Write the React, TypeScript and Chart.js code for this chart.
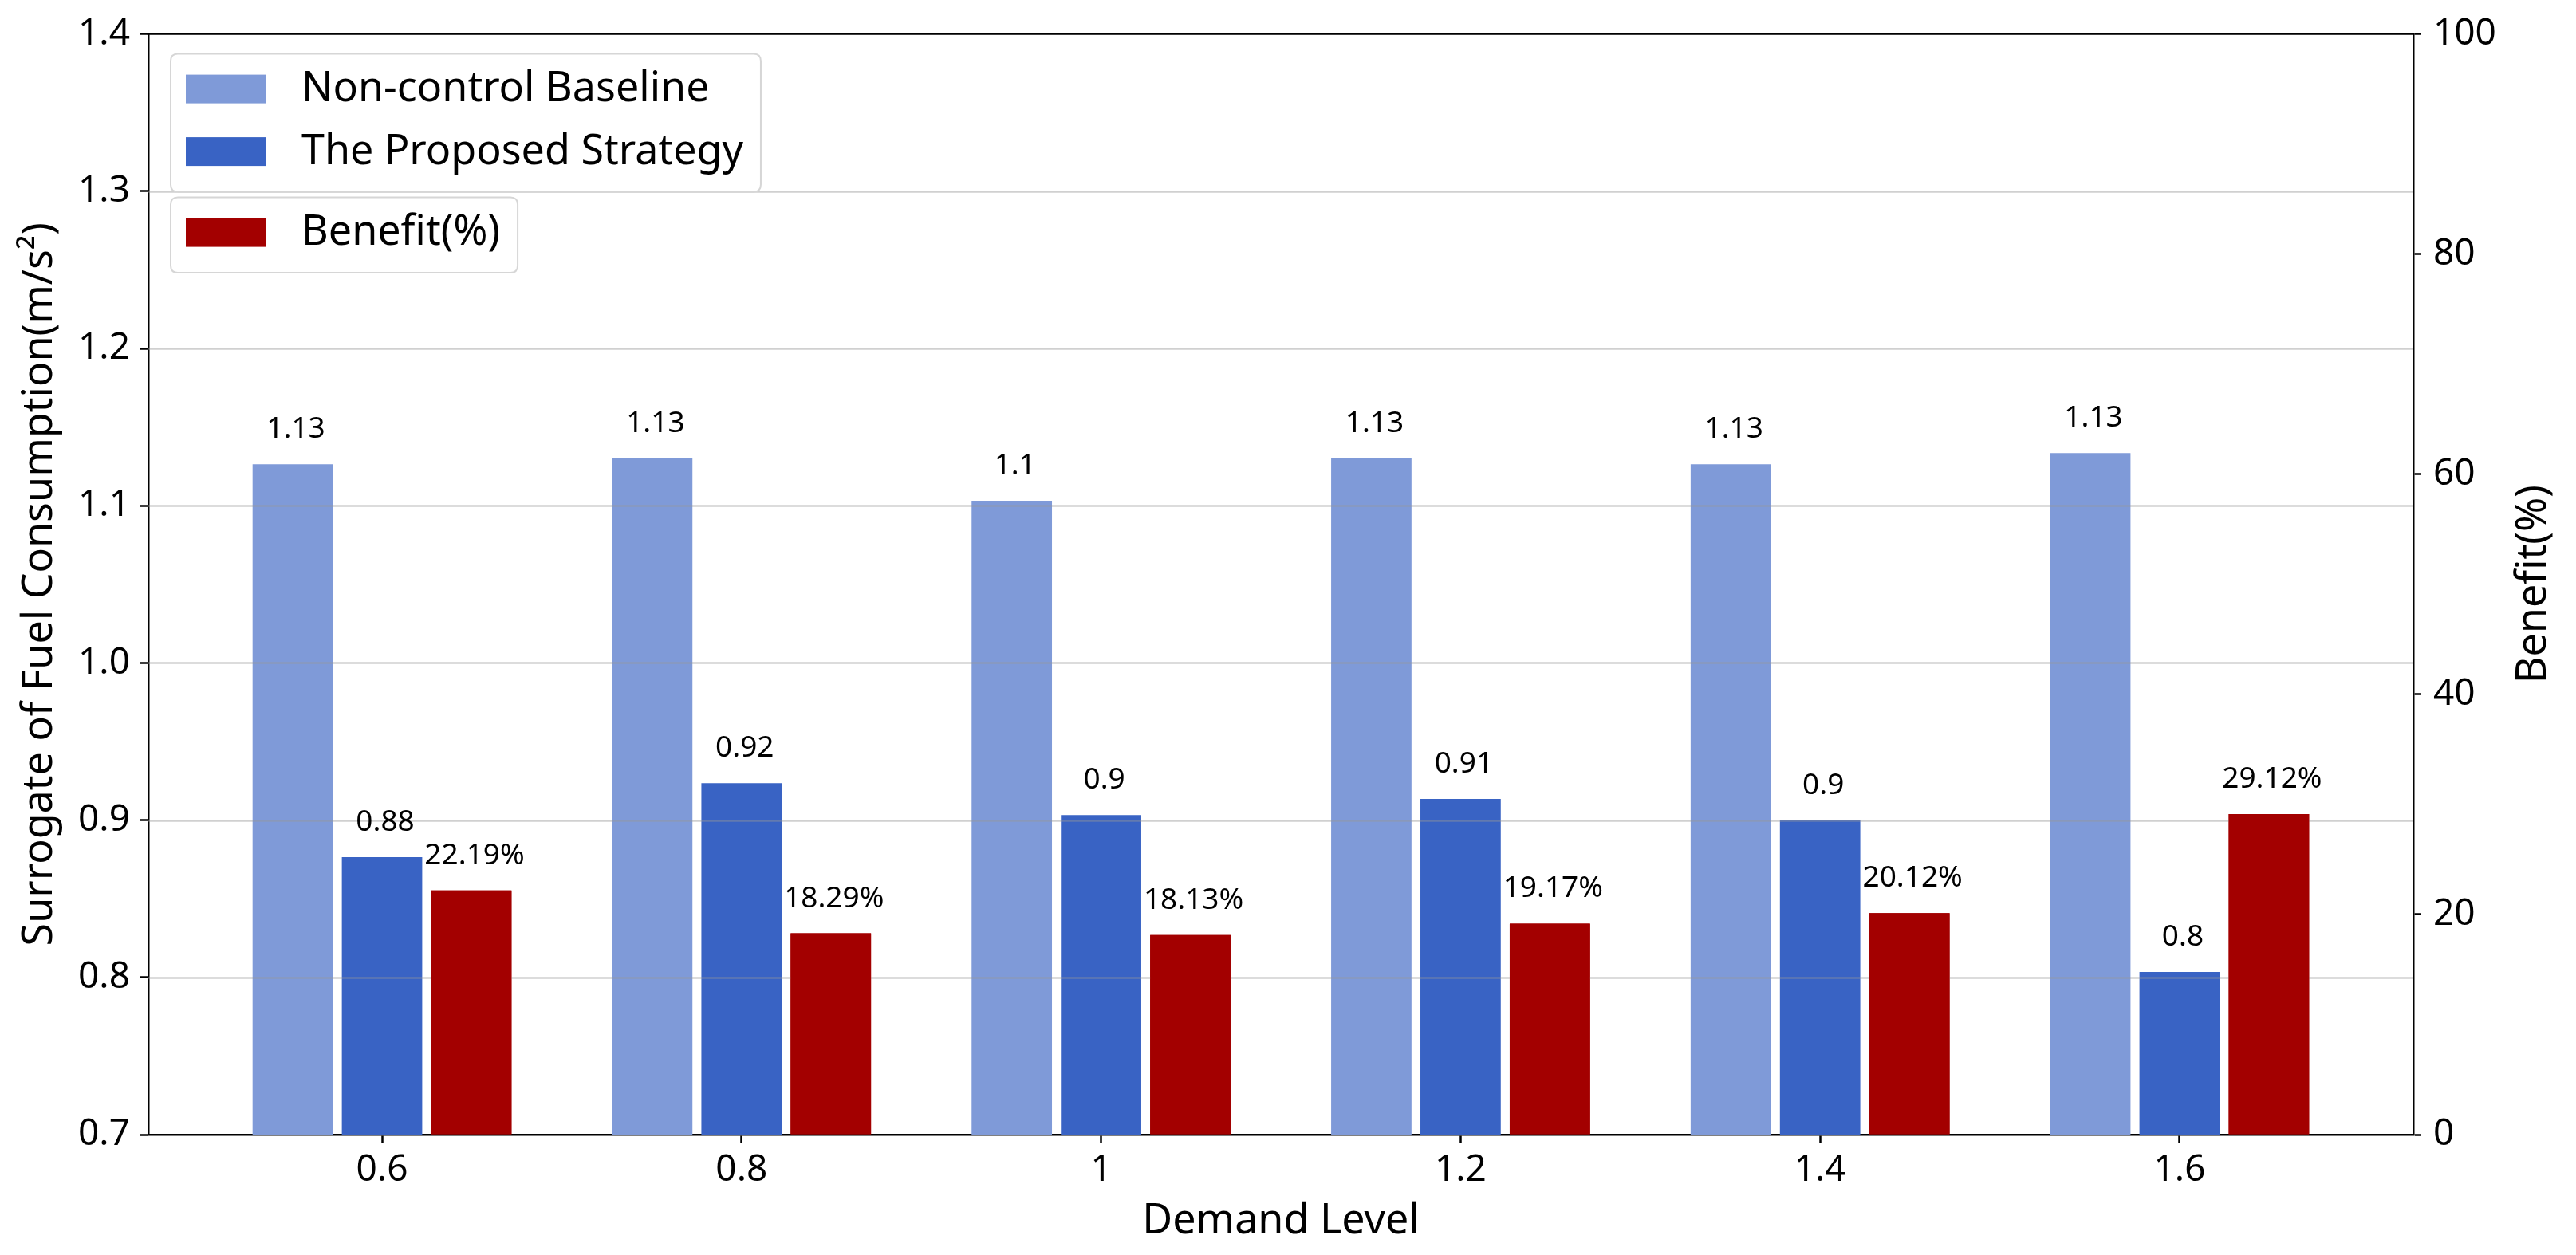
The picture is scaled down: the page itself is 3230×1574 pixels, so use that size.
import React, { useEffect, useRef } from "react";
import { Chart, registerables } from "chart.js";

Chart.register(...registerables);

// ---------- data ----------
const demandLevels = [0.6, 0.8, 1.0, 1.2, 1.4, 1.6];
const demandLabels = ["0.6", "0.8", "1", "1.2", "1.4", "1.6"];
const baselineValues = [1.1264, 1.1302, 1.1031, 1.1302, 1.1264, 1.1335];
const proposedValues = [0.8765, 0.9235, 0.9032, 0.9135, 0.9, 0.8034];
const benefitValues = [22.19, 18.29, 18.13, 19.17, 20.12, 29.12];
const leftTicks = [0.7, 0.8, 0.9, 1.0, 1.1, 1.2, 1.3, 1.4];
const rightTicks = [0, 20, 40, 60, 80, 100];
const seriesNames = ["Non-control Baseline", "The Proposed Strategy", "Benefit(%)"];
const seriesColors = ["#7f9ad8", "#3963c4", "#a30000"];
const legendGroups = [[0, 1], [2]];

const leftTitle = "Surrogate of Fuel Consumption(m/s²)";
const rightTitle = "Benefit(%)";
const bottomTitle = "Demand Level";

const FONT = "'Noto Sans', 'Open Sans', sans-serif";

function roundRectPath(ctx: CanvasRenderingContext2D, x: number, y: number, w: number, h: number, r: number) {
  ctx.beginPath();
  ctx.moveTo(x + r, y);
  ctx.lineTo(x + w - r, y);
  ctx.quadraticCurveTo(x + w, y, x + w, y + r);
  ctx.lineTo(x + w, y + h - r);
  ctx.quadraticCurveTo(x + w, y + h, x + w - r, y + h);
  ctx.lineTo(x + r, y + h);
  ctx.quadraticCurveTo(x, y + h, x, y + h - r);
  ctx.lineTo(x, y + r);
  ctx.quadraticCurveTo(x, y, x + r, y);
  ctx.closePath();
}

const overlayPlugin = {
  id: "overlay",
  afterDatasetsDraw(chart: any) {
    const { ctx, chartArea: ca, scales } = chart;
    const y = scales.y;
    // grid lines of the left axis (drawn over the blue bars, under the red bars)
    ctx.save();
    ctx.strokeStyle = "rgba(150,150,150,0.45)";
    ctx.lineWidth = 2.5;
    leftTicks.forEach((v) => {
      if (v <= leftTicks[0] || v >= leftTicks[leftTicks.length - 1]) return;
      const py = Math.round(y.getPixelForValue(v)) + 0.5;
      ctx.beginPath();
      ctx.moveTo(ca.left, py);
      ctx.lineTo(ca.right, py);
      ctx.stroke();
    });
    ctx.restore();
    // red bars of the twin axis on top of the grid
    const redMeta = chart.getDatasetMeta(2);
    redMeta.data.forEach((el: any) => el.draw(ctx));

    // value labels
    ctx.save();
    ctx.font = `37px ${FONT}`;
    ctx.fillStyle = "#000";
    ctx.textAlign = "center";
    ctx.textBaseline = "alphabetic";
    chart.data.datasets.forEach((ds: any, di: number) => {
      const meta = chart.getDatasetMeta(di);
      meta.data.forEach((el: any, i: number) => {
        const v = ds.data[i].y;
        const txt = di === 2 ? v.toFixed(2) + "%" : String(Math.round(v * 100) / 100);
        ctx.fillText(txt, el.x + 4, el.y - 33);
      });
    });
    ctx.restore();
  },
  afterDraw(chart: any) {
    const { ctx, chartArea: ca, scales } = chart;
    // top spine
    ctx.save();
    ctx.strokeStyle = "#000";
    ctx.lineWidth = 2.5;
    ctx.beginPath();
    ctx.moveTo(ca.left - 1.25, ca.top);
    ctx.lineTo(ca.right + 1.25, ca.top);
    ctx.stroke();
    ctx.restore();

    // right axis title (reads bottom to top)
    ctx.save();
    ctx.font = `52px ${FONT}`;
    ctx.fillStyle = "#000";
    ctx.textAlign = "center";
    ctx.textBaseline = "middle";
    ctx.translate(scales.y1.right - 53, (ca.top + ca.bottom) / 2);
    ctx.rotate(-Math.PI / 2);
    ctx.fillText(rightTitle, 0, 0);
    ctx.restore();

    // legends (two boxes)
    ctx.save();
    ctx.font = `52px ${FONT}`;
    const boxLeft = ca.left + 28;
    let boxTop = ca.top + 25;
    const firstRow = 44;
    const rowStep = 78.5;
    const lastPad = 50.5;
    const textX = boxLeft + 164;
    legendGroups.forEach((group) => {
      const h = firstRow + rowStep * (group.length - 1) + lastPad;
      let maxW = 0;
      group.forEach((di) => {
        maxW = Math.max(maxW, ctx.measureText(seriesNames[di]).width);
      });
      const w = textX + maxW + 22 - boxLeft;
      roundRectPath(ctx, boxLeft, boxTop, w, h, 9);
      ctx.fillStyle = "rgba(255,255,255,0.85)";
      ctx.fill();
      ctx.strokeStyle = "#d6d6d6";
      ctx.lineWidth = 2;
      ctx.stroke();
      group.forEach((di, r) => {
        const cy = boxTop + firstRow + rowStep * r;
        ctx.fillStyle = seriesColors[di];
        ctx.fillRect(boxLeft + 19, cy - 18, 101, 36);
        ctx.fillStyle = "#000";
        ctx.textAlign = "left";
        ctx.textBaseline = "middle";
        ctx.fillText(seriesNames[di], textX, cy + 1);
      });
      boxTop += h + 7;
    });
    ctx.restore();
  },
};

export default function App() {
  const ref = useRef<HTMLCanvasElement>(null);
  useEffect(() => {
    Chart.defaults.font.family = FONT;
    Chart.defaults.color = "#000";
    const barCommon = {
      borderWidth: 0,
      categoryPercentage: 0.745,
      barPercentage: 0.9,
    };
    const chart = new Chart(ref.current as HTMLCanvasElement, {
      type: "bar",
      data: {
        datasets: [
          {
            ...barCommon,
            label: seriesNames[0],
            data: demandLevels.map((x, i) => ({ x, y: baselineValues[i] })),
            backgroundColor: seriesColors[0],
            yAxisID: "y",
          },
          {
            ...barCommon,
            label: seriesNames[1],
            data: demandLevels.map((x, i) => ({ x, y: proposedValues[i] })),
            backgroundColor: seriesColors[1],
            yAxisID: "y",
          },
          {
            ...barCommon,
            label: seriesNames[2],
            data: demandLevels.map((x, i) => ({ x, y: benefitValues[i] })),
            backgroundColor: seriesColors[2],
            yAxisID: "y1",
          },
        ],
      } as any,
      options: {
        animation: false,
        responsive: true,
        maintainAspectRatio: false,
        layout: { padding: { top: 39, left: 0, right: 0, bottom: 0 } },
        plugins: {
          legend: { display: false },
          tooltip: { enabled: false },
        },
        scales: {
          x: {
            type: "linear",
            min: 0.47,
            max: 1.73,
            offset: false,
            z: 1,
            afterBuildTicks: (s: any) => {
              s.ticks = demandLevels.map((v) => ({ value: v }));
            },
            afterFit: (s: any) => {
              s.height = 151;
            },
            ticks: {
              callback: (_v: any, i: number) => demandLabels[i],
              font: { size: 46 },
              color: "#000",
              padding: 7,
              maxRotation: 0,
              autoSkip: false,
            },
            grid: {
              display: true,
              offset: false,
              drawOnChartArea: false,
              drawTicks: true,
              tickLength: 10,
              tickWidth: 2.5,
              tickColor: "#000",
            },
            border: { display: true, color: "#000", width: 2.5 },
            title: {
              display: true,
              text: bottomTitle,
              font: { size: 52 },
              color: "#000",
              padding: { top: 0, bottom: 11 },
            },
          },
          y: {
            type: "linear",
            position: "left",
            min: 0.7,
            max: 1.4,
            z: 1,
            afterBuildTicks: (s: any) => {
              s.ticks = leftTicks.map((v) => ({ value: v }));
            },
            afterFit: (s: any) => {
              s.width = 186;
            },
            ticks: {
              callback: (v: any) => Number(v).toFixed(1),
              font: { size: 46 },
              color: "#000",
              padding: 13,
            },
            grid: {
              display: true,
              drawOnChartArea: false,
              drawTicks: true,
              tickLength: 10,
              tickWidth: 2.5,
              tickColor: "#000",
            },
            border: { display: true, color: "#000", width: 2.5 },
            title: {
              display: true,
              text: leftTitle,
              font: { size: 52 },
              color: "#000",
              padding: { top: 19, bottom: 0 },
            },
          },
          y1: {
            type: "linear",
            position: "right",
            min: 0,
            max: 100,
            z: 1,
            afterBuildTicks: (s: any) => {
              s.ticks = rightTicks.map((v) => ({ value: v }));
            },
            afterFit: (s: any) => {
              s.width = 204;
            },
            ticks: {
              callback: (v: any) => String(v),
              font: { size: 46 },
              color: "#000",
              padding: 15,
            },
            grid: {
              display: true,
              drawOnChartArea: false,
              drawTicks: true,
              tickLength: 10,
              tickWidth: 2.5,
              tickColor: "#000",
            },
            border: { display: true, color: "#000", width: 2.5 },
            title: { display: false },
          },
        },
      } as any,
      plugins: [overlayPlugin],
    });
    return () => chart.destroy();
  }, []);

  return (
    <div
      style={{
        position: "absolute",
        left: 0,
        top: 0,
        width: 3230,
        height: 1574,
        background: "#fff",
      }}
    >
      <canvas ref={ref} />
    </div>
  );
}
